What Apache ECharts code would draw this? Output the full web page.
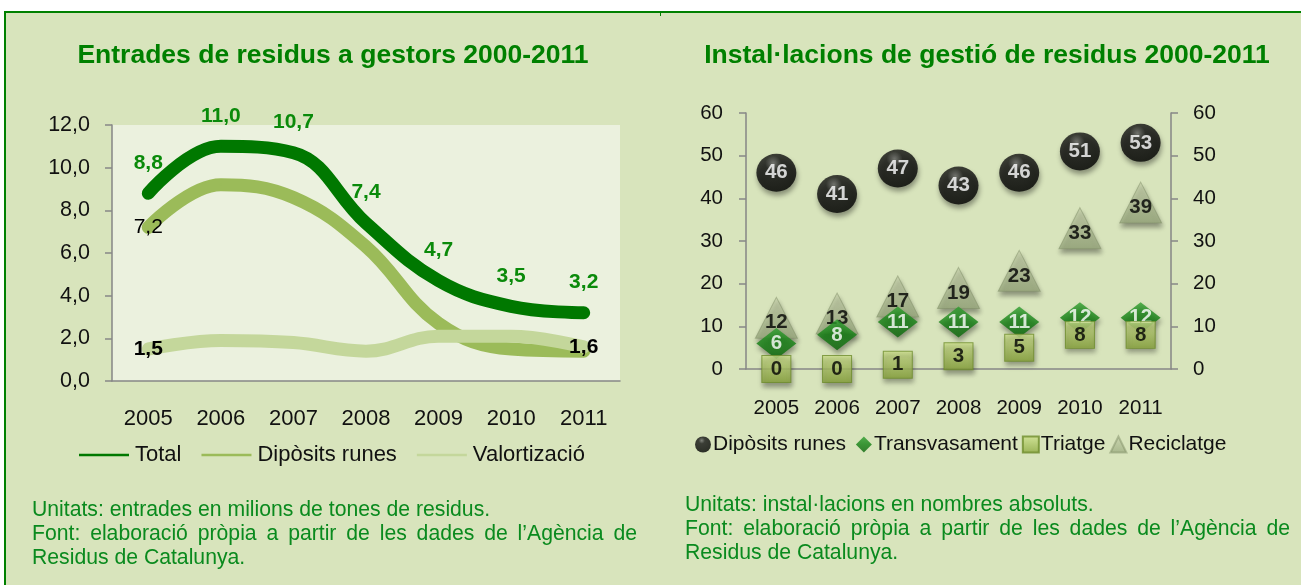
<!DOCTYPE html>
<html>
<head>
<meta charset="utf-8">
<title>Residus 2000-2011</title>
<script src="https://cdn.jsdelivr.net/npm/echarts@6/dist/echarts.min.js"></script>
<style>
  html, body { margin: 0; padding: 0; background: #fff; overflow: hidden; }
  #panel {
    position: absolute; left: 4px; top: 11px; width: 1320px; height: 600px;
    background: #d8e4bc; border-left: 2px solid #008000; border-top: 2px solid #008000;
  }
  #notch { position: absolute; left: 660px; top: 11px; width: 1px; height: 5px; background: #008000; }
  #chart { position: absolute; left: 0; top: 0; width: 1301px; height: 585px; }
  .note {
    position: absolute; width: 605px;
    font-family: 'Liberation Sans', Arial, sans-serif; font-size: 21.2px; line-height: 24px;
    color: #0a8a1e; white-space: nowrap;
  }
  .note .j { text-align: justify; text-align-last: justify; white-space: normal; }
</style>
</head>
<body>
<div id="panel"></div>
<div id="notch"></div>
<div id="chart"></div>
<div class="note" style="left:32px; top:497px;">
  <div>Unitats: entrades en milions de tones de residus.</div>
  <div class="j">Font: elaboració pròpia a partir de les dades de l’Agència de</div>
  <div>Residus de Catalunya.</div>
</div>
<div class="note" style="left:685px; top:492px;">
  <div>Unitats: instal·lacions en nombres absoluts.</div>
  <div class="j">Font: elaboració pròpia a partir de les dades de l’Agència de</div>
  <div>Residus de Catalunya.</div>
</div>
<script>
// dades
const years = ['2005', '2006', '2007', '2008', '2009', '2010', '2011']
const total = [8.8, 11.0, 10.7, 7.4, 4.7, 3.5, 3.2]
const dipositsRunes = [7.2, 9.2, 8.6, 6.3, 2.7, 1.5, 1.4]
const valoritzacio = [1.5, 1.9, 1.8, 1.4, 2.1, 2.1, 1.6]

const instDiposits = [46, 41, 47, 43, 46, 51, 53]
const instTransvasament = [6, 8, 11, 11, 11, 12, 12]
const instTriatge = [0, 0, 1, 3, 5, 8, 8]
const instReciclatge = [12, 13, 17, 19, 23, 33, 39]

const font = "'Liberation Sans', Arial, sans-serif"
const comma = v => v.toFixed(1).replace('.', ',')
const axisGrey = '#868686'
const shadow = { shadowBlur: 5, shadowColor: 'rgba(0,0,0,0.45)', shadowOffsetX: 1, shadowOffsetY: 4 }

const chart = echarts.init(document.getElementById('chart'), null, { renderer: 'canvas' })

const lineSeries = (name, data, color, z, label) => ({
  name, type: 'line', xAxisIndex: 0, yAxisIndex: 0,
  data, smooth: 0.4, symbol: 'circle', symbolSize: 2, showSymbol: true, z,
  lineStyle: { color, width: 13, cap: 'round' },
  itemStyle: { color },
  label
})

const option = {
  animation: false,
  textStyle: { fontFamily: font },
  title: [
    {
      text: 'Entrades de residus a gestors 2000-2011',
      left: 328, top: 37, textAlign: 'center',
      textStyle: { color: '#008000', fontSize: 26.5, fontWeight: 'bold', fontFamily: font }
    },
    {
      text: 'Instal·lacions de gestió de residus 2000-2011',
      left: 982, top: 37, textAlign: 'center',
      textStyle: { color: '#008000', fontSize: 26.5, fontWeight: 'bold', fontFamily: font }
    }
  ],
  legend: [
    {
      data: ['Total', 'Dipòsits runes', 'Valortizació'],
      left: 74, top: 439, icon: 'rect',
      itemWidth: 50, itemHeight: 2.5, itemGap: 20,
      textStyle: { fontSize: 22, color: '#111', fontFamily: font, padding: [0, 0, 0, 1] }
    },
    {
      data: ['Dipòsits runes ', 'Transvasament', 'Triatge', 'Reciclatge'],
      left: 690, top: 429,
      itemWidth: 16, itemHeight: 16, itemGap: 4,
      textStyle: { fontSize: 21, color: '#111', fontFamily: font, padding: [0, 0, 0, -3] }
    }
  ],
  grid: [
    { left: 112, right: 681, top: 125, bottom: 204, show: true, backgroundColor: '#ebf1de', borderWidth: 0 },
    { left: 746, right: 130, top: 113, bottom: 216 }
  ],
  xAxis: [
    {
      type: 'category', gridIndex: 0, data: years, boundaryGap: true,
      axisLine: { lineStyle: { color: axisGrey, width: 1.5 } },
      axisTick: { length: 7, lineStyle: { color: axisGrey, width: 1.5 } },
      axisLabel: { margin: 27, fontSize: 22, color: '#111' }
    },
    {
      type: 'category', gridIndex: 1, data: years, boundaryGap: true,
      axisLine: { lineStyle: { color: axisGrey, width: 1.5 } },
      axisTick: { length: 7, lineStyle: { color: axisGrey, width: 1.5 } },
      axisLabel: { margin: 29, fontSize: 20.5, color: '#111' }
    }
  ],
  yAxis: [
    {
      type: 'value', gridIndex: 0, min: 0, max: 12, interval: 2,
      axisLine: { show: true, lineStyle: { color: axisGrey, width: 1.5 } },
      axisTick: { show: true, length: 7, lineStyle: { color: axisGrey, width: 1.5 } },
      splitLine: { show: false },
      axisLabel: { margin: 22, fontSize: 21.5, color: '#111', formatter: comma }
    },
    {
      type: 'value', gridIndex: 1, position: 'left', min: 0, max: 60, interval: 10,
      axisLine: { show: true, lineStyle: { color: axisGrey, width: 1.5 } },
      axisTick: { show: true, length: 7, lineStyle: { color: axisGrey, width: 1.5 } },
      splitLine: { show: false },
      axisLabel: { margin: 23, fontSize: 20.5, color: '#111' }
    },
    {
      type: 'value', gridIndex: 1, position: 'right', min: 0, max: 60, interval: 10,
      axisLine: { show: true, lineStyle: { color: axisGrey, width: 1.5 } },
      axisTick: { show: true, length: 7, lineStyle: { color: axisGrey, width: 1.5 } },
      splitLine: { show: false },
      axisLabel: { margin: 22, fontSize: 20.5, color: '#111' }
    }
  ],
  series: [
    lineSeries('Total', total, '#007800', 4, {
      show: true, position: 'top', distance: 19, formatter: p => comma(p.value),
      color: '#0a8a0a', fontSize: 21, fontWeight: 'bold'
    }),
    lineSeries('Dipòsits runes',
      dipositsRunes.map((v, i) => i === 0 ? { value: v, label: { show: true } } : v),
      '#9bbb59', 2, {
        show: false, position: 'inside', formatter: p => comma(p.value),
        color: '#000', fontSize: 21
      }),
    lineSeries('Valortizació',
      valoritzacio.map((v, i) => (i === 0 || i === valoritzacio.length - 1) ? { value: v, label: { show: true } } : v),
      '#c4d79b', 3, {
        show: false, position: 'inside', formatter: p => comma(p.value),
        color: '#000', fontSize: 21, fontWeight: 'bold'
      }),
    {
      name: 'Dipòsits runes ', type: 'scatter', xAxisIndex: 1, yAxisIndex: 1,
      data: instDiposits, symbol: 'circle', symbolSize: [40, 38], z: 3,
      itemStyle: Object.assign({
        color: new echarts.graphic.RadialGradient(0.42, 0.25, 0.8, [
          { offset: 0, color: '#6a6a6a' },
          { offset: 0.25, color: '#141414' },
          { offset: 1, color: '#000' }
        ])
      }, shadow),
      label: { show: true, position: 'inside', color: '#fff', fontSize: 20.5, fontWeight: 'bold' }
    },
    {
      name: 'Transvasament', type: 'scatter', xAxisIndex: 1, yAxisIndex: 1,
      data: instTransvasament, symbol: 'diamond', symbolSize: [40, 31], z: 4,
      itemStyle: Object.assign({
        color: new echarts.graphic.LinearGradient(0, 0, 0, 1, [
          { offset: 0, color: '#2f9e2f' },
          { offset: 0.5, color: '#138013' },
          { offset: 1, color: '#0a640a' }
        ])
      }, shadow),
      label: { show: true, position: 'inside', color: '#fff', fontSize: 20.5, fontWeight: 'bold' }
    },
    {
      name: 'Triatge', type: 'scatter', xAxisIndex: 1, yAxisIndex: 1,
      data: instTriatge, symbol: 'rect', symbolSize: [29, 27], z: 5,
      itemStyle: Object.assign({
        color: new echarts.graphic.LinearGradient(0, 0, 0, 1, [
          { offset: 0, color: '#cfe28e' },
          { offset: 1, color: '#8aa63c' }
        ]),
        borderColor: '#6e8c2c', borderWidth: 1
      }, shadow),
      label: { show: true, position: 'inside', color: '#000', fontSize: 20.5, fontWeight: 'bold' }
    },
    {
      name: 'Reciclatge', type: 'scatter', xAxisIndex: 1, yAxisIndex: 1,
      data: instReciclatge, symbol: 'triangle', symbolSize: [42, 41], z: 2,
      itemStyle: Object.assign({
        color: new echarts.graphic.LinearGradient(0, 0, 0, 1, [
          { offset: 0, color: '#c8d2ad' },
          { offset: 1, color: '#9cac80' }
        ]),
        borderColor: 'rgba(125,140,100,0.6)', borderWidth: 1
      }, shadow),
      label: { show: true, position: 'inside', offset: [0, 5], color: '#000', fontSize: 20.5, fontWeight: 'bold' }
    }
  ]
}

chart.setOption(option)
</script>
</body>
</html>
